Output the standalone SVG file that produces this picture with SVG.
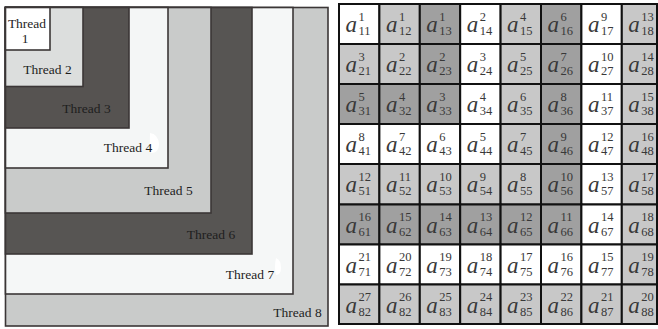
<svg xmlns="http://www.w3.org/2000/svg" width="658" height="329" viewBox="0 0 658 329">
  <style>
    .band { stroke: #3b3636; stroke-width: 1.6; }
    .t1 { fill: #ffffff; } .t2 { fill: #dcdedd; } .t3 { fill: #565351; } .t4 { fill: #f4f6f6; }
    .t5 { fill: #c9cbca; } .t6 { fill: #575553; } .t7 { fill: #f5f7f7; } .t8 { fill: #c9cbca; }
    .lbl { font-family: "Liberation Serif", "Times New Roman", serif; font-size: 13.5px; fill: #1e1e1e; text-anchor: middle; }
    .cell { stroke: #111111; stroke-width: 2; }
    .w { fill: #ffffff; } .l { fill: #c8c8c8; } .d { fill: #a0a0a0; }
    .a { font-family: "Liberation Serif", "Times New Roman", serif; font-style: italic; font-size: 23px; fill: #383838; text-anchor: end; }
    .s { font-family: "Liberation Serif", "Times New Roman", serif; font-size: 12.5px; fill: #383838; }
  </style>

  <!-- Left panel: nested thread regions, largest first -->
  <g id="thread8"><rect class="band t8" x="5.5" y="7.5" width="322.5" height="318.5"/><text class="lbl" x="297.5" y="316.5">Thread 8</text></g>
  <g id="thread7"><rect class="band t7" x="5.5" y="7.5" width="287.5" height="286.5"/><path d="M276 258 q5 2 5 10 q0 7 -5 7 q-2 -8 0 -17z" fill="#ffffff"/><text class="lbl" x="250" y="278.5">Thread 7</text></g>
  <g id="thread6"><rect class="band t6" x="5.5" y="7.5" width="246.5" height="246.5"/><text class="lbl" x="211" y="239">Thread 6</text></g>
  <g id="thread5"><rect class="band t5" x="5.5" y="7.5" width="205.5" height="205.5"/><text class="lbl" x="168.5" y="194.5">Thread 5</text></g>
  <g id="thread4"><rect class="band t4" x="5.5" y="7.5" width="162.5" height="160.5"/><path d="M150 133 q8 1 9 11 q0 9 -8 9 q-2 -10 -1 -20z" fill="#ffffff"/><text class="lbl" x="128" y="151.5">Thread 4</text></g>
  <g id="thread3"><rect class="band t3" x="5.5" y="7.5" width="123.5" height="120.5"/><text class="lbl" x="86.5" y="112.5">Thread 3</text></g>
  <g id="thread2"><rect class="band t2" x="5.5" y="7.5" width="77.5" height="79"/><text class="lbl" x="47.5" y="73.5">Thread 2</text></g>
  <g id="thread1"><rect class="band t1" x="5.5" y="7.5" width="44.5" height="42.5"/><text class="lbl" x="27" y="27.5">Thread</text><text class="lbl" x="25" y="42.5">1</text></g>

  <!-- Right panel: 8x8 matrix, cell shading follows the thread regions -->
  <g id="matrix">
    <g id="a11" transform="translate(339,4)"><rect class="cell w" width="40.4" height="40"/><text class="a" x="18" y="28">a</text><text class="s" x="19.5" y="16.5">1</text><text class="s" x="19.5" y="31">11</text></g>
    <g id="a12" transform="translate(379.4,4)"><rect class="cell l" width="40.4" height="40"/><text class="a" x="18" y="28">a</text><text class="s" x="19.5" y="16.5">1</text><text class="s" x="19.5" y="31">12</text></g>
    <g id="a13" transform="translate(419.8,4)"><rect class="cell d" width="40.4" height="40"/><text class="a" x="18" y="28">a</text><text class="s" x="19.5" y="16.5">1</text><text class="s" x="19.5" y="31">13</text></g>
    <g id="a14" transform="translate(460.2,4)"><rect class="cell w" width="40.4" height="40"/><text class="a" x="18" y="28">a</text><text class="s" x="19.5" y="16.5">2</text><text class="s" x="19.5" y="31">14</text></g>
    <g id="a15" transform="translate(500.6,4)"><rect class="cell l" width="40.4" height="40"/><text class="a" x="18" y="28">a</text><text class="s" x="19.5" y="16.5">4</text><text class="s" x="19.5" y="31">15</text></g>
    <g id="a16" transform="translate(541,4)"><rect class="cell d" width="40.4" height="40"/><text class="a" x="18" y="28">a</text><text class="s" x="19.5" y="16.5">6</text><text class="s" x="19.5" y="31">16</text></g>
    <g id="a17" transform="translate(581.4,4)"><rect class="cell w" width="40.4" height="40"/><text class="a" x="18" y="28">a</text><text class="s" x="19.5" y="16.5">9</text><text class="s" x="19.5" y="31">17</text></g>
    <g id="a18" transform="translate(621.8,4)"><rect class="cell l" width="35.2" height="40"/><text class="a" x="18" y="28">a</text><text class="s" x="19.5" y="16.5">13</text><text class="s" x="19.5" y="31">18</text></g>

    <g id="a21" transform="translate(339,44)"><rect class="cell l" width="40.4" height="40"/><text class="a" x="18" y="28">a</text><text class="s" x="19.5" y="16.5">3</text><text class="s" x="19.5" y="31">21</text></g>
    <g id="a22" transform="translate(379.4,44)"><rect class="cell l" width="40.4" height="40"/><text class="a" x="18" y="28">a</text><text class="s" x="19.5" y="16.5">2</text><text class="s" x="19.5" y="31">22</text></g>
    <g id="a23" transform="translate(419.8,44)"><rect class="cell d" width="40.4" height="40"/><text class="a" x="18" y="28">a</text><text class="s" x="19.5" y="16.5">2</text><text class="s" x="19.5" y="31">23</text></g>
    <g id="a24" transform="translate(460.2,44)"><rect class="cell w" width="40.4" height="40"/><text class="a" x="18" y="28">a</text><text class="s" x="19.5" y="16.5">3</text><text class="s" x="19.5" y="31">24</text></g>
    <g id="a25" transform="translate(500.6,44)"><rect class="cell l" width="40.4" height="40"/><text class="a" x="18" y="28">a</text><text class="s" x="19.5" y="16.5">5</text><text class="s" x="19.5" y="31">25</text></g>
    <g id="a26" transform="translate(541,44)"><rect class="cell d" width="40.4" height="40"/><text class="a" x="18" y="28">a</text><text class="s" x="19.5" y="16.5">7</text><text class="s" x="19.5" y="31">26</text></g>
    <g id="a27" transform="translate(581.4,44)"><rect class="cell w" width="40.4" height="40"/><text class="a" x="18" y="28">a</text><text class="s" x="19.5" y="16.5">10</text><text class="s" x="19.5" y="31">27</text></g>
    <g id="a28" transform="translate(621.8,44)"><rect class="cell l" width="35.2" height="40"/><text class="a" x="18" y="28">a</text><text class="s" x="19.5" y="16.5">14</text><text class="s" x="19.5" y="31">28</text></g>

    <g id="a31" transform="translate(339,84)"><rect class="cell d" width="40.4" height="40"/><text class="a" x="18" y="28">a</text><text class="s" x="19.5" y="16.5">5</text><text class="s" x="19.5" y="31">31</text></g>
    <g id="a32" transform="translate(379.4,84)"><rect class="cell d" width="40.4" height="40"/><text class="a" x="18" y="28">a</text><text class="s" x="19.5" y="16.5">4</text><text class="s" x="19.5" y="31">32</text></g>
    <g id="a33" transform="translate(419.8,84)"><rect class="cell d" width="40.4" height="40"/><text class="a" x="18" y="28">a</text><text class="s" x="19.5" y="16.5">3</text><text class="s" x="19.5" y="31">33</text></g>
    <g id="a34" transform="translate(460.2,84)"><rect class="cell w" width="40.4" height="40"/><text class="a" x="18" y="28">a</text><text class="s" x="19.5" y="16.5">4</text><text class="s" x="19.5" y="31">34</text></g>
    <g id="a35" transform="translate(500.6,84)"><rect class="cell l" width="40.4" height="40"/><text class="a" x="18" y="28">a</text><text class="s" x="19.5" y="16.5">6</text><text class="s" x="19.5" y="31">35</text></g>
    <g id="a36" transform="translate(541,84)"><rect class="cell d" width="40.4" height="40"/><text class="a" x="18" y="28">a</text><text class="s" x="19.5" y="16.5">8</text><text class="s" x="19.5" y="31">36</text></g>
    <g id="a37" transform="translate(581.4,84)"><rect class="cell w" width="40.4" height="40"/><text class="a" x="18" y="28">a</text><text class="s" x="19.5" y="16.5">11</text><text class="s" x="19.5" y="31">37</text></g>
    <g id="a38" transform="translate(621.8,84)"><rect class="cell l" width="35.2" height="40"/><text class="a" x="18" y="28">a</text><text class="s" x="19.5" y="16.5">15</text><text class="s" x="19.5" y="31">38</text></g>

    <g id="a41" transform="translate(339,124)"><rect class="cell w" width="40.4" height="40"/><text class="a" x="18" y="28">a</text><text class="s" x="19.5" y="16.5">8</text><text class="s" x="19.5" y="31">41</text></g>
    <g id="a42" transform="translate(379.4,124)"><rect class="cell w" width="40.4" height="40"/><text class="a" x="18" y="28">a</text><text class="s" x="19.5" y="16.5">7</text><text class="s" x="19.5" y="31">42</text></g>
    <g id="a43" transform="translate(419.8,124)"><rect class="cell w" width="40.4" height="40"/><text class="a" x="18" y="28">a</text><text class="s" x="19.5" y="16.5">6</text><text class="s" x="19.5" y="31">43</text></g>
    <g id="a44" transform="translate(460.2,124)"><rect class="cell w" width="40.4" height="40"/><text class="a" x="18" y="28">a</text><text class="s" x="19.5" y="16.5">5</text><text class="s" x="19.5" y="31">44</text></g>
    <g id="a45" transform="translate(500.6,124)"><rect class="cell l" width="40.4" height="40"/><text class="a" x="18" y="28">a</text><text class="s" x="19.5" y="16.5">7</text><text class="s" x="19.5" y="31">45</text></g>
    <g id="a46" transform="translate(541,124)"><rect class="cell d" width="40.4" height="40"/><text class="a" x="18" y="28">a</text><text class="s" x="19.5" y="16.5">9</text><text class="s" x="19.5" y="31">46</text></g>
    <g id="a47" transform="translate(581.4,124)"><rect class="cell w" width="40.4" height="40"/><text class="a" x="18" y="28">a</text><text class="s" x="19.5" y="16.5">12</text><text class="s" x="19.5" y="31">47</text></g>
    <g id="a48" transform="translate(621.8,124)"><rect class="cell l" width="35.2" height="40"/><text class="a" x="18" y="28">a</text><text class="s" x="19.5" y="16.5">16</text><text class="s" x="19.5" y="31">48</text></g>

    <g id="a51" transform="translate(339,164)"><rect class="cell l" width="40.4" height="40.5"/><text class="a" x="18" y="28">a</text><text class="s" x="19.5" y="16.5">12</text><text class="s" x="19.5" y="31">51</text></g>
    <g id="a52" transform="translate(379.4,164)"><rect class="cell l" width="40.4" height="40.5"/><text class="a" x="18" y="28">a</text><text class="s" x="19.5" y="16.5">11</text><text class="s" x="19.5" y="31">52</text></g>
    <g id="a53" transform="translate(419.8,164)"><rect class="cell l" width="40.4" height="40.5"/><text class="a" x="18" y="28">a</text><text class="s" x="19.5" y="16.5">10</text><text class="s" x="19.5" y="31">53</text></g>
    <g id="a54" transform="translate(460.2,164)"><rect class="cell l" width="40.4" height="40.5"/><text class="a" x="18" y="28">a</text><text class="s" x="19.5" y="16.5">9</text><text class="s" x="19.5" y="31">54</text></g>
    <g id="a55" transform="translate(500.6,164)"><rect class="cell l" width="40.4" height="40.5"/><text class="a" x="18" y="28">a</text><text class="s" x="19.5" y="16.5">8</text><text class="s" x="19.5" y="31">55</text></g>
    <g id="a56" transform="translate(541,164)"><rect class="cell d" width="40.4" height="40.5"/><text class="a" x="18" y="28">a</text><text class="s" x="19.5" y="16.5">10</text><text class="s" x="19.5" y="31">56</text></g>
    <g id="a57" transform="translate(581.4,164)"><rect class="cell w" width="40.4" height="40.5"/><text class="a" x="18" y="28">a</text><text class="s" x="19.5" y="16.5">13</text><text class="s" x="19.5" y="31">57</text></g>
    <g id="a58" transform="translate(621.8,164)"><rect class="cell l" width="35.2" height="40.5"/><text class="a" x="18" y="28">a</text><text class="s" x="19.5" y="16.5">17</text><text class="s" x="19.5" y="31">58</text></g>

    <g id="a61" transform="translate(339,204.5)"><rect class="cell d" width="40.4" height="40"/><text class="a" x="18" y="28">a</text><text class="s" x="19.5" y="16.5">16</text><text class="s" x="19.5" y="31">61</text></g>
    <g id="a62" transform="translate(379.4,204.5)"><rect class="cell d" width="40.4" height="40"/><text class="a" x="18" y="28">a</text><text class="s" x="19.5" y="16.5">15</text><text class="s" x="19.5" y="31">62</text></g>
    <g id="a63" transform="translate(419.8,204.5)"><rect class="cell d" width="40.4" height="40"/><text class="a" x="18" y="28">a</text><text class="s" x="19.5" y="16.5">14</text><text class="s" x="19.5" y="31">63</text></g>
    <g id="a64" transform="translate(460.2,204.5)"><rect class="cell d" width="40.4" height="40"/><text class="a" x="18" y="28">a</text><text class="s" x="19.5" y="16.5">13</text><text class="s" x="19.5" y="31">64</text></g>
    <g id="a65" transform="translate(500.6,204.5)"><rect class="cell d" width="40.4" height="40"/><text class="a" x="18" y="28">a</text><text class="s" x="19.5" y="16.5">12</text><text class="s" x="19.5" y="31">65</text></g>
    <g id="a66" transform="translate(541,204.5)"><rect class="cell d" width="40.4" height="40"/><text class="a" x="18" y="28">a</text><text class="s" x="19.5" y="16.5">11</text><text class="s" x="19.5" y="31">66</text></g>
    <g id="a67" transform="translate(581.4,204.5)"><rect class="cell w" width="40.4" height="40"/><text class="a" x="18" y="28">a</text><text class="s" x="19.5" y="16.5">14</text><text class="s" x="19.5" y="31">67</text></g>
    <g id="a68" transform="translate(621.8,204.5)"><rect class="cell l" width="35.2" height="40"/><text class="a" x="18" y="28">a</text><text class="s" x="19.5" y="16.5">18</text><text class="s" x="19.5" y="31">68</text></g>

    <g id="a71" transform="translate(339,244.5)"><rect class="cell w" width="40.4" height="40"/><text class="a" x="18" y="28">a</text><text class="s" x="19.5" y="16.5">21</text><text class="s" x="19.5" y="31">71</text></g>
    <g id="a72" transform="translate(379.4,244.5)"><rect class="cell w" width="40.4" height="40"/><text class="a" x="18" y="28">a</text><text class="s" x="19.5" y="16.5">20</text><text class="s" x="19.5" y="31">72</text></g>
    <g id="a73" transform="translate(419.8,244.5)"><rect class="cell w" width="40.4" height="40"/><text class="a" x="18" y="28">a</text><text class="s" x="19.5" y="16.5">19</text><text class="s" x="19.5" y="31">73</text></g>
    <g id="a74" transform="translate(460.2,244.5)"><rect class="cell w" width="40.4" height="40"/><text class="a" x="18" y="28">a</text><text class="s" x="19.5" y="16.5">18</text><text class="s" x="19.5" y="31">74</text></g>
    <g id="a75" transform="translate(500.6,244.5)"><rect class="cell w" width="40.4" height="40"/><text class="a" x="18" y="28">a</text><text class="s" x="19.5" y="16.5">17</text><text class="s" x="19.5" y="31">75</text></g>
    <g id="a76" transform="translate(541,244.5)"><rect class="cell w" width="40.4" height="40"/><text class="a" x="18" y="28">a</text><text class="s" x="19.5" y="16.5">16</text><text class="s" x="19.5" y="31">76</text></g>
    <g id="a77" transform="translate(581.4,244.5)"><rect class="cell w" width="40.4" height="40"/><text class="a" x="18" y="28">a</text><text class="s" x="19.5" y="16.5">15</text><text class="s" x="19.5" y="31">77</text></g>
    <g id="a78" transform="translate(621.8,244.5)"><rect class="cell l" width="35.2" height="40"/><text class="a" x="18" y="28">a</text><text class="s" x="19.5" y="16.5">19</text><text class="s" x="19.5" y="31">78</text></g>

    <g id="a81" transform="translate(339,284.5)"><rect class="cell l" width="40.4" height="39.5"/><text class="a" x="18" y="28">a</text><text class="s" x="19.5" y="16.5">27</text><text class="s" x="19.5" y="31">82</text></g>
    <g id="a82" transform="translate(379.4,284.5)"><rect class="cell l" width="40.4" height="39.5"/><text class="a" x="18" y="28">a</text><text class="s" x="19.5" y="16.5">26</text><text class="s" x="19.5" y="31">82</text></g>
    <g id="a83" transform="translate(419.8,284.5)"><rect class="cell l" width="40.4" height="39.5"/><text class="a" x="18" y="28">a</text><text class="s" x="19.5" y="16.5">25</text><text class="s" x="19.5" y="31">83</text></g>
    <g id="a84" transform="translate(460.2,284.5)"><rect class="cell l" width="40.4" height="39.5"/><text class="a" x="18" y="28">a</text><text class="s" x="19.5" y="16.5">24</text><text class="s" x="19.5" y="31">84</text></g>
    <g id="a85" transform="translate(500.6,284.5)"><rect class="cell l" width="40.4" height="39.5"/><text class="a" x="18" y="28">a</text><text class="s" x="19.5" y="16.5">23</text><text class="s" x="19.5" y="31">85</text></g>
    <g id="a86" transform="translate(541,284.5)"><rect class="cell l" width="40.4" height="39.5"/><text class="a" x="18" y="28">a</text><text class="s" x="19.5" y="16.5">22</text><text class="s" x="19.5" y="31">86</text></g>
    <g id="a87" transform="translate(581.4,284.5)"><rect class="cell l" width="40.4" height="39.5"/><text class="a" x="18" y="28">a</text><text class="s" x="19.5" y="16.5">21</text><text class="s" x="19.5" y="31">87</text></g>
    <g id="a88" transform="translate(621.8,284.5)"><rect class="cell l" width="35.2" height="39.5"/><text class="a" x="18" y="28">a</text><text class="s" x="19.5" y="16.5">20</text><text class="s" x="19.5" y="31">88</text></g>
  </g>
</svg>
